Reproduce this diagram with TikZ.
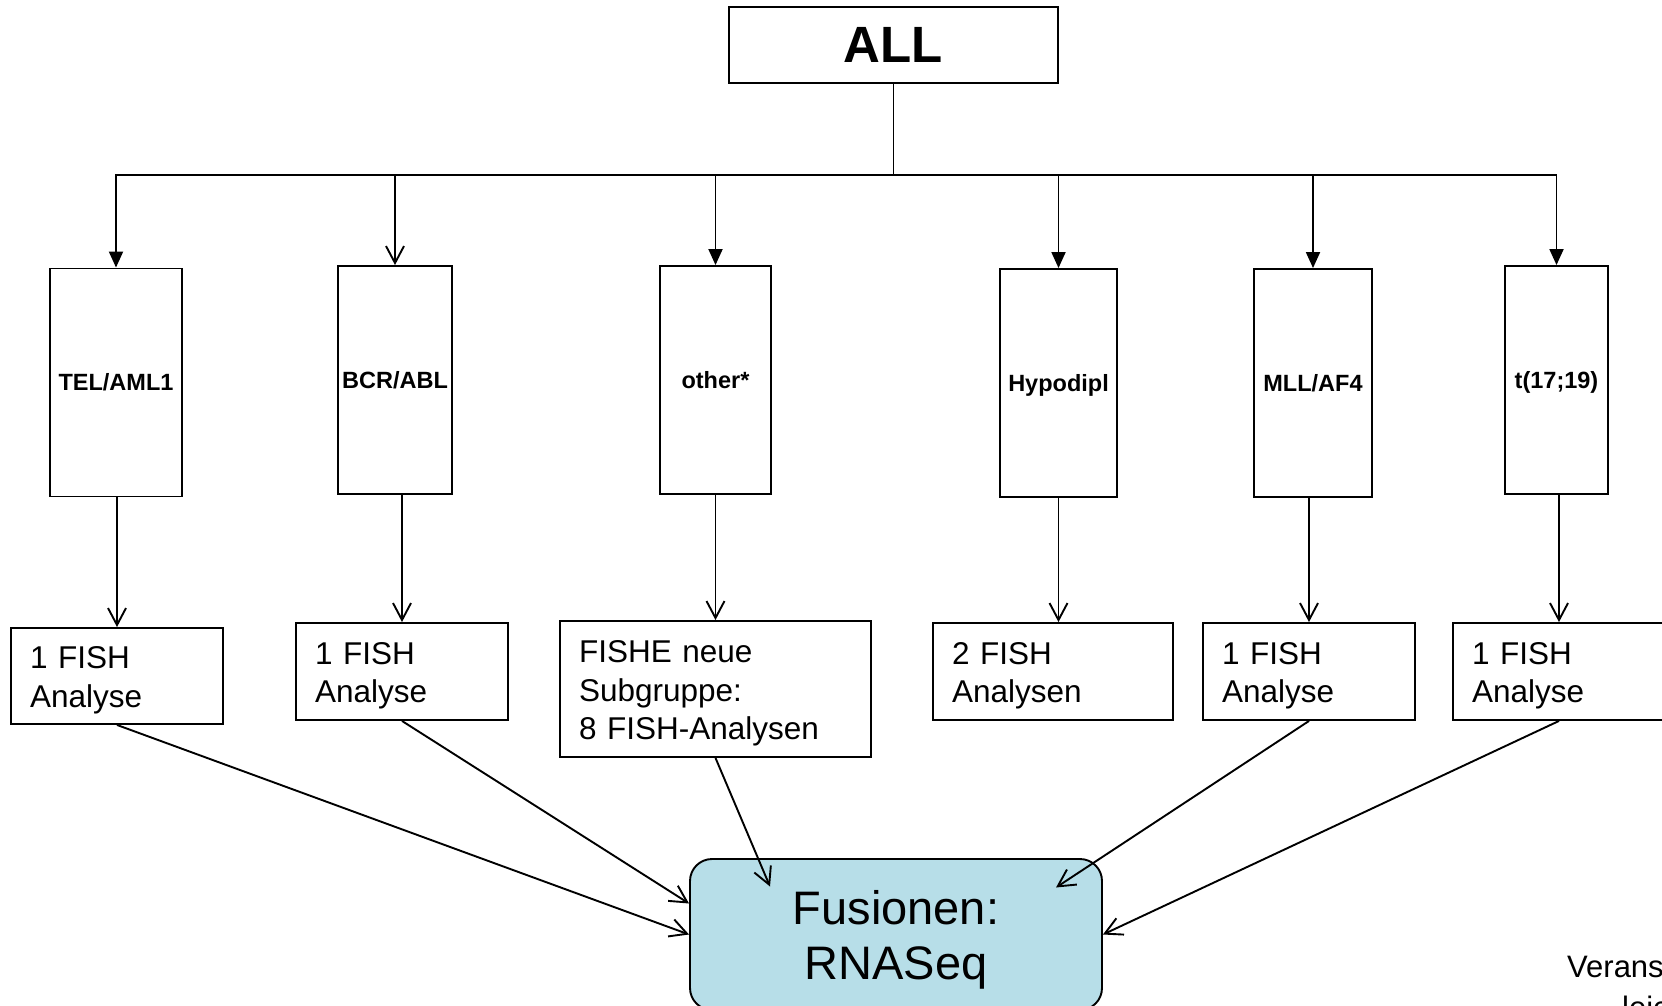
\documentclass[tikz,border=0pt]{standalone}
\usepackage{fontspec}
\setmainfont{Liberation Sans}
\usetikzlibrary{arrows.meta}
\definecolor{fusfill}{HTML}{B7DEE8}
\tikzset{
  box/.style={draw,line width=1.9pt,inner sep=0pt},
  catbox/.style={box,font=\fontsize{23.5}{28}\selectfont\bfseries,minimum height=228pt,text height=20pt,text depth=3.2pt},
  resbox/.style={box,font=\fontsize{31.5}{38.5}\selectfont,align=left,inner xsep=19pt,text height=31pt},
  fillarrow/.style={line width=1.9pt,-{Triangle[length=16pt,width=14pt]}},
  openarrow/.style={line width=1.9pt,-{Straight Barb[length=17pt,width=18pt]}},
}
\begin{document}
\begin{tikzpicture}[x=1pt,y=-1pt]
\useasboundingbox (0,0) rectangle (1662,1006);
\clip (0,0) rectangle (1662,1006);
\node[box,font=\fontsize{51}{60}\selectfont\bfseries,minimum width=329pt,minimum height=76pt] (all) at (893.5,45) {ALL};
\node[catbox,minimum width=132pt] (cat_1) at (116,382.5) {TEL/AML1};
\node[catbox,minimum width=114pt] (cat_2) at (395,380) {BCR/ABL};
\node[catbox,minimum width=111pt] (cat_3) at (715.5,380) {other*};
\node[catbox,minimum width=117pt] (cat_4) at (1058.5,383) {Hypodipl};
\node[catbox,minimum width=118pt] (cat_5) at (1313,383) {MLL/AF4};
\node[catbox,minimum width=103pt] (cat_6) at (1556.5,380) {t(17;19)};
\node[resbox,text width=174pt,minimum height=96pt] (res_1) at (117,676) {1 FISH\\Analyse};
\node[resbox,text width=174pt,minimum height=97pt] (res_2) at (402,671.5) {1 FISH\\Analyse};
\node[resbox,text width=273pt,minimum height=136pt] (res_3) at (715.5,689) {FISHE neue\\Subgruppe:\\8 FISH-Analysen};
\node[resbox,text width=202pt,minimum height=97pt] (res_4) at (1053,671.5) {2 FISH\\Analysen};
\node[resbox,text width=174pt,minimum height=97pt] (res_5) at (1309,671.5) {1 FISH\\Analyse};
\node[resbox,text width=174pt,minimum height=97pt] (res_6) at (1559,671.5) {1 FISH\\Analyse};
\node[box,fill=fusfill,rounded corners=22pt,minimum width=412pt,minimum height=151pt,align=center,text width=370pt,text height=44pt,font=\fontsize{47}{55}\selectfont] (fus) at (896,934.5) {Fusionen:\\RNASeq};
\node[anchor=base west,inner sep=0pt,font=\fontsize{31}{37}\selectfont] (note_1) at (1567,977) {Verans};
\node[anchor=base west,inner sep=0pt,font=\fontsize{31}{37}\selectfont] (note_2) at (1622,1018) {leic};
\coordinate (bus) at (893.5,175);
\draw[line width=1.9pt] (all.south) -- (bus);
\draw[fillarrow] (bus) -| (cat_1.north);
\draw[openarrow] (bus) -| (cat_2.north);
\draw[fillarrow] (bus) -| (cat_3.north);
\draw[fillarrow] (bus) -| (cat_4.north);
\draw[fillarrow] (bus) -| (cat_5.north);
\draw[fillarrow] (bus) -| (cat_6.north);
\draw[openarrow] (res_1.north |- cat_1.south) -- (res_1.north);
\draw[openarrow] (res_2.north |- cat_2.south) -- (res_2.north);
\draw[openarrow] (res_3.north |- cat_3.south) -- (res_3.north);
\draw[openarrow] (cat_4.south) -- (cat_4.south |- res_4.north);
\draw[openarrow] (res_5.north |- cat_5.south) -- (res_5.north);
\draw[openarrow] (res_6.north |- cat_6.south) -- (res_6.north);
\draw[openarrow] (res_1.south) -- (fus.west);
\draw[openarrow] (res_2.south) -- ([yshift=31pt]fus.west);
\draw[openarrow] (res_3.south) -- ([xshift=-126pt,yshift=48pt]fus.center);
\draw[openarrow] (res_5.south) -- ([xshift=160pt,yshift=47pt]fus.center);
\draw[openarrow] (res_6.south) -- (fus.east);
\end{tikzpicture}
\end{document}
